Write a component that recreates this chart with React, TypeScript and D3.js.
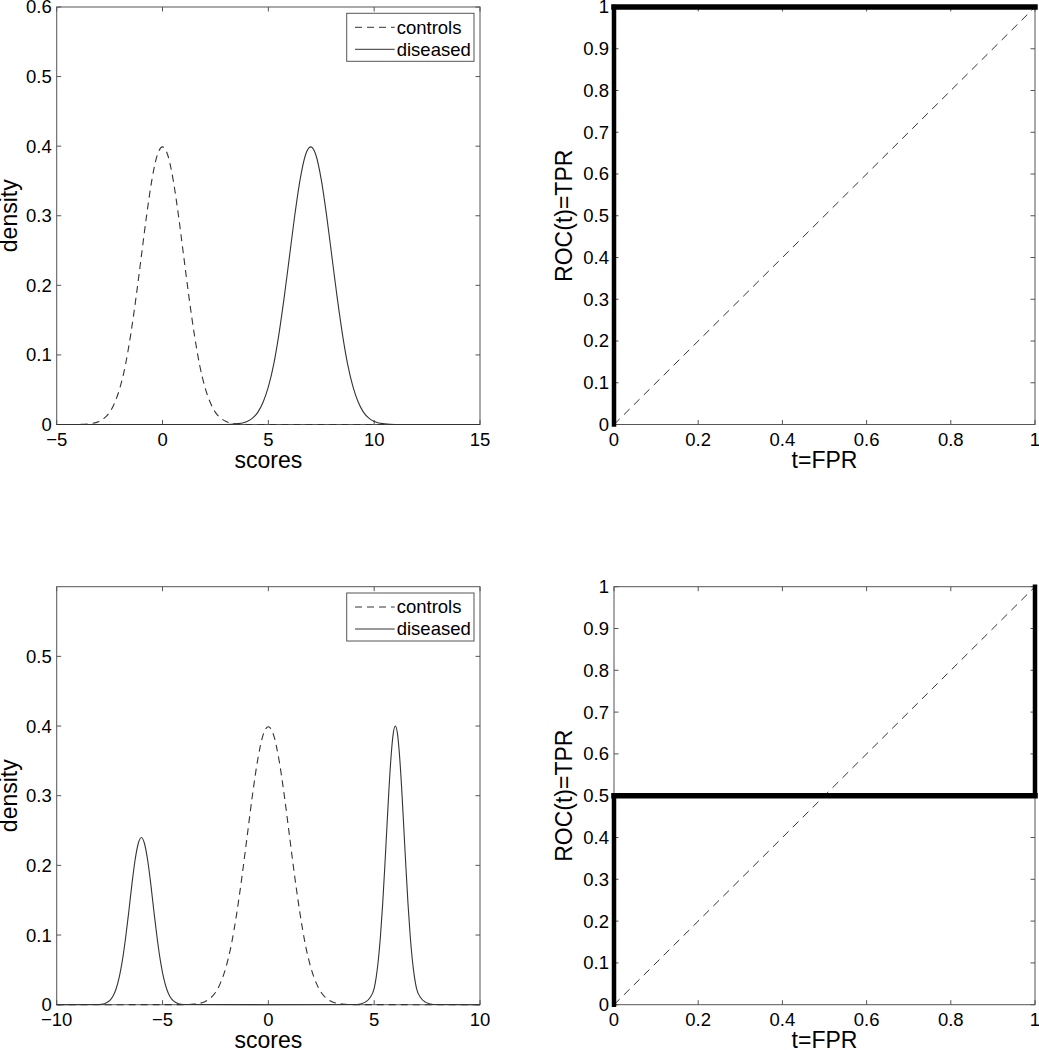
import React from "react";
import * as d3 from "d3";

// ---------- tick values ----------
const topDensityXTicks = [-5, 0, 5, 10, 15];
const bottomDensityXTicks = [-10, -5, 0, 5, 10];
const topDensityYTicks = [0, 0.1, 0.2, 0.3, 0.4, 0.5, 0.6];
const bottomDensityYTicks = [0, 0.1, 0.2, 0.3, 0.4, 0.5];
const rocXTicks = [0, 0.2, 0.4, 0.6, 0.8, 1];
const rocYTicks = [0, 0.1, 0.2, 0.3, 0.4, 0.5, 0.6, 0.7, 0.8, 0.9, 1];

// ---------- top-left densities ----------
const topControlsX = [-5, -4, -3.5, -3, -2.75, -2.5, -2.25, -2, -1.75, -1.5, -1.25, -1, -0.75, -0.5, -0.25, 0, 0.25, 0.5, 0.75, 1, 1.25, 1.5, 1.75, 2, 2.25, 2.5, 2.75, 3, 3.5, 4, 15];
const topControlsY = [0, 0.0001, 0.0009, 0.0044, 0.0091, 0.0175, 0.032, 0.054, 0.086, 0.13, 0.183, 0.242, 0.301, 0.352, 0.387, 0.399, 0.387, 0.352, 0.301, 0.242, 0.183, 0.13, 0.086, 0.054, 0.032, 0.0175, 0.0091, 0.0044, 0.0009, 0.0001, 0];
const topDiseasedX = [-5, 3, 3.5, 4, 4.25, 4.5, 4.75, 5, 5.25, 5.5, 5.75, 6, 6.25, 6.5, 6.75, 7, 7.25, 7.5, 7.75, 8, 8.25, 8.5, 8.75, 9, 9.25, 9.5, 9.75, 10, 10.5, 11, 15];
const topDiseasedY = [0, 0.0001, 0.0009, 0.0044, 0.0091, 0.0175, 0.032, 0.054, 0.086, 0.13, 0.183, 0.242, 0.301, 0.352, 0.387, 0.399, 0.387, 0.352, 0.301, 0.242, 0.183, 0.13, 0.086, 0.054, 0.032, 0.0175, 0.0091, 0.0044, 0.0009, 0.0001, 0];

// ---------- bottom-left densities ----------
const bottomControlsX = [-10, -4, -3.5, -3, -2.75, -2.5, -2.25, -2, -1.75, -1.5, -1.25, -1, -0.75, -0.5, -0.25, 0, 0.25, 0.5, 0.75, 1, 1.25, 1.5, 1.75, 2, 2.25, 2.5, 2.75, 3, 3.5, 4, 10];
const bottomControlsY = [0, 0.0001, 0.0009, 0.0044, 0.0091, 0.0175, 0.032, 0.054, 0.086, 0.13, 0.183, 0.242, 0.301, 0.352, 0.387, 0.399, 0.387, 0.352, 0.301, 0.242, 0.183, 0.13, 0.086, 0.054, 0.032, 0.0175, 0.0091, 0.0044, 0.0009, 0.0001, 0];
const bottomDiseasedX = [-10, -8, -7.75, -7.5, -7.35, -7.2, -7.05, -6.9, -6.75, -6.6, -6.45, -6.3, -6.15, -6, -5.85, -5.7, -5.55, -5.4, -5.25, -5.1, -4.95, -4.8, -4.65, -4.5, -4.25, -4, 0, 4.2, 4.4, 4.6, 4.8, 5, 5.1, 5.2, 5.3, 5.4, 5.5, 5.6, 5.7, 5.8, 5.9, 6, 6.1, 6.2, 6.3, 6.4, 6.5, 6.6, 6.7, 6.8, 6.9, 7, 7.2, 7.4, 7.6, 7.8, 10];
const bottomDiseasedY = [0, 0.0003, 0.0015, 0.0058, 0.0118, 0.0222, 0.0388, 0.0629, 0.0947, 0.132, 0.172, 0.207, 0.231, 0.24, 0.231, 0.207, 0.172, 0.132, 0.0947, 0.0629, 0.0388, 0.0222, 0.0118, 0.0058, 0.0015, 0.0003, 0, 0.0003, 0.0015, 0.004, 0.01, 0.0235, 0.0403, 0.0652, 0.0998, 0.144, 0.197, 0.254, 0.31, 0.357, 0.389, 0.4, 0.389, 0.357, 0.31, 0.254, 0.197, 0.144, 0.0998, 0.0652, 0.0403, 0.0235, 0.01, 0.004, 0.0015, 0.0003, 0];

// ---------- ROC curves ----------
const rocTopFPR = [0, 0, 1];
const rocTopTPR = [0, 1, 1];
const rocBottomFPR = [0, 0, 1, 1];
const rocBottomTPR = [0, 0.5, 0.5, 1];
const chanceFPR = [0, 1];
const chanceTPR = [0, 1];

const FONT = "'Liberation Sans', Arial, Helvetica, sans-serif";
const TICK_FS = 18.5;
const LABEL_FS = 23;
const AXIS_COLOR = "#555";
const CURVE_COLOR = "#333";

type Series = { x: number[]; y: number[] };

function fmt(v: number) {
  return String(v).replace("-", "\u2212");
}

function Frame(props: {
  left: number; right: number; top: number; bottom: number;
  x: d3.ScaleLinear<number, number>; y: d3.ScaleLinear<number, number>;
  xTicks: number[]; yTicks: number[]; xLabel: string; yLabel: string; yLabelX: number;
}) {
  const { left, right, top, bottom, x, y, xTicks, yTicks, xLabel, yLabel, yLabelX } = props;
  const tl = 4.5;
  const cx = (left + right) / 2;
  const cy = (top + bottom) / 2;
  return (
    <g>
      <rect x={left} y={top} width={right - left} height={bottom - top} fill="none" stroke={AXIS_COLOR} strokeWidth={1} />
      {xTicks.map((t) => (
        <g key={"x" + t}>
          <line x1={x(t)} x2={x(t)} y1={bottom} y2={bottom - tl} stroke={AXIS_COLOR} />
          <line x1={x(t)} x2={x(t)} y1={top} y2={top + tl} stroke={AXIS_COLOR} />
          <text x={x(t)} y={bottom + 21} textAnchor="middle" fontSize={TICK_FS} fontFamily={FONT} fill="#000">{fmt(t)}</text>
        </g>
      ))}
      {yTicks.map((t) => (
        <g key={"y" + t}>
          <line x1={left} x2={left + tl} y1={y(t)} y2={y(t)} stroke={AXIS_COLOR} />
          <line x1={right} x2={right - tl} y1={y(t)} y2={y(t)} stroke={AXIS_COLOR} />
          <text x={left - 5} y={y(t)} dy="0.35em" textAnchor="end" fontSize={TICK_FS} fontFamily={FONT} fill="#000">{fmt(t)}</text>
        </g>
      ))}
      <text x={cx} y={bottom + 43.5} textAnchor="middle" fontSize={LABEL_FS} fontFamily={FONT} fill="#000">{xLabel}</text>
      <text transform={`translate(${yLabelX},${cy}) rotate(-90)`} textAnchor="middle" fontSize={LABEL_FS} fontFamily={FONT} fill="#000">{yLabel}</text>
    </g>
  );
}

function DensityPanel(props: {
  left: number; right: number; top: number; bottom: number;
  xDomain: [number, number]; xTicks: number[]; yTicks: number[];
  controls: Series; diseased: Series;
}) {
  const { left, right, top, bottom, xDomain, xTicks, yTicks, controls, diseased } = props;
  const x = d3.scaleLinear().domain(xDomain).range([left, right]);
  const y = d3.scaleLinear().domain([0, 0.6]).range([bottom, top]);
  const mk = (s: Series) =>
    d3.line<number>().x((_, i) => x(s.x[i])).y((_, i) => y(s.y[i])).curve(d3.curveMonotoneX)(s.x) || "";
  const bx = right - 133.3;
  const by = top + 6.3;
  return (
    <g>
      <Frame left={left} right={right} top={top} bottom={bottom} x={x} y={y} xTicks={xTicks} yTicks={yTicks} xLabel="scores" yLabel="density" yLabelX={16.5} />
      <path d={mk(controls)} fill="none" stroke={CURVE_COLOR} strokeWidth={1.1} strokeDasharray="7,5" />
      <path d={mk(diseased)} fill="none" stroke={CURVE_COLOR} strokeWidth={1.1} />
      <rect x={bx} y={by} width={127.3} height={48} fill="#fff" stroke={AXIS_COLOR} strokeWidth={1} />
      <line x1={bx + 8.3} x2={bx + 48} y1={by + 14} y2={by + 14} stroke={CURVE_COLOR} strokeDasharray="7,5" />
      <line x1={bx + 8.3} x2={bx + 48} y1={by + 36} y2={by + 36} stroke={CURVE_COLOR} />
      <text x={bx + 50} y={by + 14} dy="0.35em" fontSize={18.5} fontFamily={FONT} fill="#000">controls</text>
      <text x={bx + 50} y={by + 36} dy="0.35em" fontSize={18.5} fontFamily={FONT} fill="#000">diseased</text>
    </g>
  );
}

function RocPanel(props: {
  left: number; right: number; top: number; bottom: number; fpr: number[]; tpr: number[];
}) {
  const { left, right, top, bottom, fpr, tpr } = props;
  const x = d3.scaleLinear().domain([0, 1]).range([left, right]);
  const y = d3.scaleLinear().domain([0, 1]).range([bottom, top]);
  const chance = d3.line<number>().x((_, i) => x(chanceFPR[i])).y((_, i) => y(chanceTPR[i]))(chanceFPR) || "";
  const segs = fpr.slice(1).map((_, i) => ({ x1: x(fpr[i]), y1: y(tpr[i]), x2: x(fpr[i + 1]), y2: y(tpr[i + 1]) }));
  return (
    <g>
      <Frame left={left} right={right} top={top} bottom={bottom} x={x} y={y} xTicks={rocXTicks} yTicks={rocYTicks} xLabel="t=FPR" yLabel="ROC(t)=TPR" yLabelX={572} />
      <path d={chance} fill="none" stroke={CURVE_COLOR} strokeWidth={1} strokeDasharray="8,6" />
      {segs.map((s, i) => (
        <line key={i} x1={s.x1} y1={s.y1} x2={s.x2} y2={s.y2} stroke="#000" strokeWidth={s.x1 === s.x2 ? 4.5 : 5.5} strokeLinecap="square" />
      ))}
    </g>
  );
}

export default function App() {
  return (
    <svg width={1039} height={1050} style={{ position: "absolute", left: 0, top: 0, background: "#fff" }}>
      <rect x={0} y={0} width={1039} height={1050} fill="#fff" />
      <DensityPanel left={56.7} right={480} top={7} bottom={424.5} xDomain={[-5, 15]} xTicks={topDensityXTicks} yTicks={topDensityYTicks}
        controls={{ x: topControlsX, y: topControlsY }} diseased={{ x: topDiseasedX, y: topDiseasedY }} />
      <RocPanel left={614} right={1035} top={7} bottom={424.5} fpr={rocTopFPR} tpr={rocTopTPR} />
      <DensityPanel left={56.7} right={480} top={586.7} bottom={1004.7} xDomain={[-10, 10]} xTicks={bottomDensityXTicks} yTicks={bottomDensityYTicks}
        controls={{ x: bottomControlsX, y: bottomControlsY }} diseased={{ x: bottomDiseasedX, y: bottomDiseasedY }} />
      <RocPanel left={614} right={1035} top={586.7} bottom={1004.7} fpr={rocBottomFPR} tpr={rocBottomTPR} />
    </svg>
  );
}
